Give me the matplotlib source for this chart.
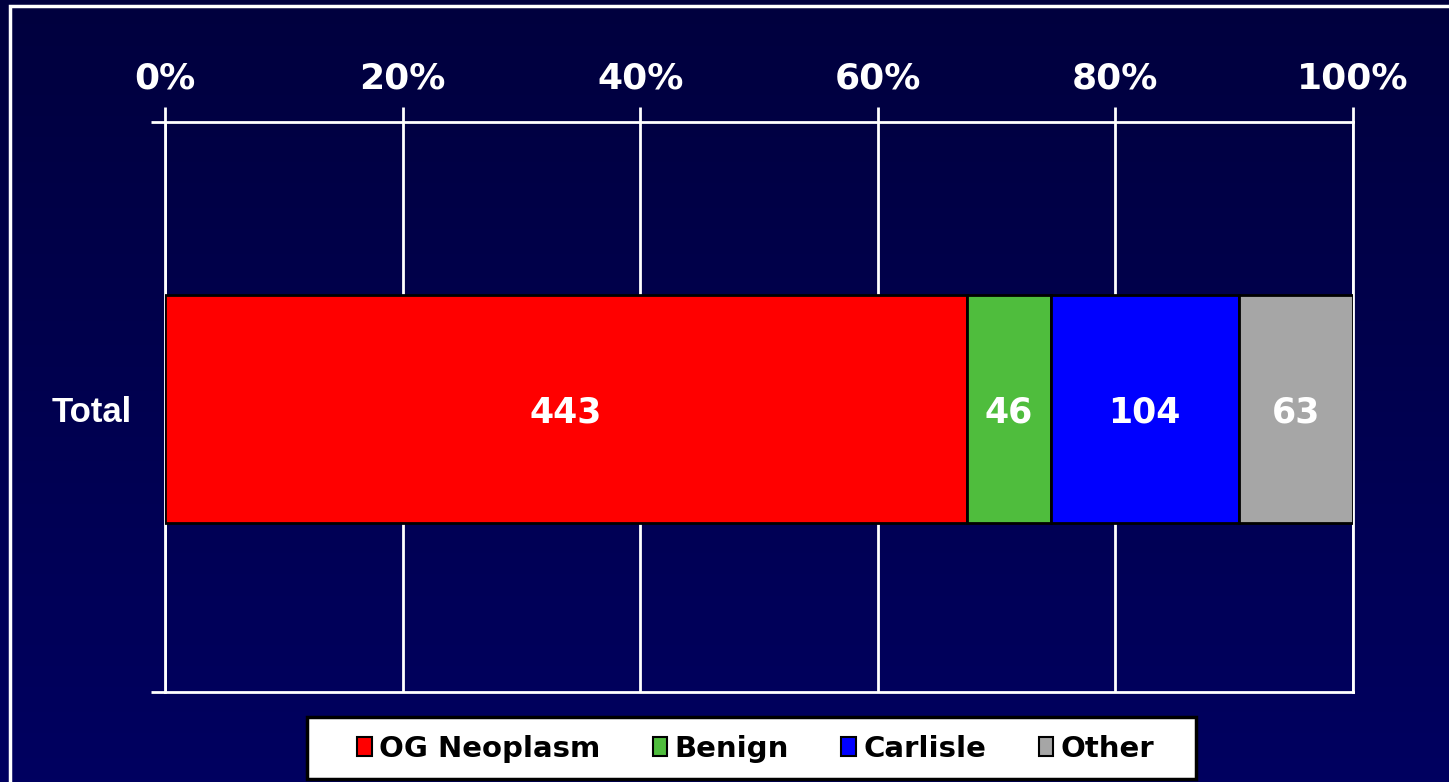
import numpy as np
import matplotlib
matplotlib.use("Agg")
import matplotlib.pyplot as plt
from matplotlib.patches import Rectangle
from matplotlib import font_manager as fm

# ── Data ───────────────────────────────────────────────────────────────────
categories = ["Total"]
series_names = ["OG Neoplasm", "Benign", "Carlisle", "Other"]
series_values = [443, 46, 104, 63]
series_colors = ["#ff0000", "#4fbd3d", "#0000ff", "#a6a6a6"]
x_ticks = [0, 20, 40, 60, 80, 100]
x_tick_labels = ["0%", "20%", "40%", "60%", "80%", "100%"]

# Arial-like bold for the category label (avoid the Narrow variant)
arial_bold = [f.fname for f in fm.fontManager.ttflist
              if f.fname.endswith("LiberationSans-Bold.ttf")]
if arial_bold:
    cat_font = fm.FontProperties(fname=arial_bold[0], size=25)
else:
    cat_font = fm.FontProperties(family="DejaVu Sans", weight="bold", size=21)

W, H = 1449, 782
fig = plt.figure(figsize=(W / 100, H / 100), dpi=100)

# ── Background gradient (dark navy) ───────────────────────────────────────
bg = fig.add_axes([0, 0, 1, 1], zorder=-10)
grad = np.linspace(0, 1, 256).reshape(-1, 1)
top, bot = np.array([0, 0, 0x3e]) / 255, np.array([0, 0, 0x60]) / 255
img = top + (bot - top) * grad[..., None]
bg.imshow(img.reshape(256, 1, 3), aspect="auto", extent=[0, 1, 0, 1])
bg.set_axis_off()

# outer white border (open to the right/bottom)
fig.patches.append(Rectangle((10 / W, -0.2), 2.0, 1.2 - 6 / H,
                             transform=fig.transFigure, fill=False,
                             edgecolor="white", lw=2.5, zorder=-5))

# ── Main axes ─────────────────────────────────────────────────────────────
ax = fig.add_axes([165 / W, 1 - 692 / H, (1353 - 165) / W, (692 - 122) / H])
ax.set_facecolor("none")

total = sum(series_values)
pcts = [v / total * 100 for v in series_values]
left = 0
for name, v, p, c in zip(series_names, series_values, pcts, series_colors):
    ax.barh(-0.004, p, left=left, height=0.4, color=c, edgecolor="black",
            lw=2, label=name, zorder=3)
    ax.text(left + p / 2, -0.01, str(v), ha="center", va="center",
            color="white", fontsize=25, fontweight="bold",
            family="DejaVu Sans", zorder=4)
    left += p

ax.set_xlim(0, 100)
ax.set_ylim(-0.5, 0.5)
ax.xaxis.tick_top()
ax.set_xticks(x_ticks)
ax.set_xticklabels(x_tick_labels, fontsize=26, fontweight="bold",
                   color="white", family="DejaVu Sans")
ax.tick_params(axis="x", colors="white", length=11, width=2, pad=8,
               labelcolor="white")
ax.set_yticks([-0.5, 0.5])
ax.set_yticklabels([])
ax.tick_params(axis="y", colors="white", length=10, width=2)
ax.text(-0.028, 0.49, categories[0], transform=ax.transAxes, ha="right",
        va="center", color="white", fontproperties=cat_font)
ax.grid(axis="x", color="white", lw=2, zorder=1)
for s in ax.spines.values():
    s.set_color("white")
    s.set_linewidth(2)

# ── Legend ────────────────────────────────────────────────────────────────
# box drawn separately so its padding can differ horizontally/vertically
fig.patches.append(Rectangle((307 / W, 1 - 779 / H), (1196 - 307) / W,
                             (779 - 717) / H, transform=fig.transFigure,
                             facecolor="white", edgecolor="black", lw=2.5,
                             zorder=5))
leg = fig.legend(loc="center", bbox_to_anchor=((307 + 1196) / 2 / W + 4 / W, 1 - 749 / H),
                 ncol=4, frameon=False,
                 prop={"weight": "bold", "size": 21, "family": "DejaVu Sans"},
                 handlelength=0.5, handleheight=0.6, handletextpad=0.25,
                 columnspacing=1.8, borderpad=0, borderaxespad=0)
leg.set_zorder(6)
for h in leg.legend_handles:
    h.set_linewidth(1.5)

fig.savefig("out.png", dpi=100)
